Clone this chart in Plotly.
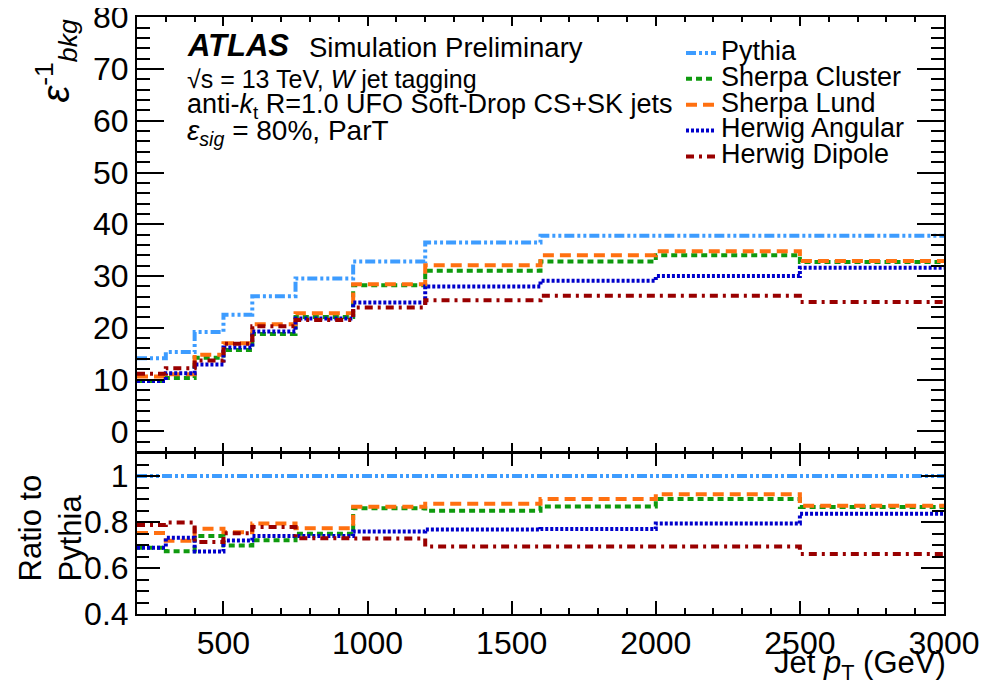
import plotly.graph_objects as go

# ---- data ----
pt_edges = [200, 300, 400, 500, 600, 750, 950, 1200, 1600, 2000, 2500, 3000]
pythia = [14.1, 15.3, 19.2, 22.5, 26.1, 29.5, 32.8, 36.5, 37.8, 37.8, 37.8]
sherpa_cluster = [9.7, 10.3, 14.2, 15.7, 18.8, 22.1, 28.2, 31.0, 32.8, 34.0, 32.7]
sherpa_lund = [10.6, 11.0, 14.8, 17.0, 20.7, 22.8, 28.4, 32.1, 34.0, 34.8, 32.9]
herwig_angular = [9.7, 11.2, 12.9, 16.2, 19.3, 21.8, 24.9, 28.0, 29.1, 30.0, 31.6]
herwig_dipole = [11.1, 12.2, 13.7, 16.9, 20.3, 21.5, 23.9, 25.3, 26.2, 26.2, 25.0]

series_names = ["Pythia", "Sherpa Cluster", "Sherpa Lund", "Herwig Angular", "Herwig Dipole"]
series_values = [pythia, sherpa_cluster, sherpa_lund, herwig_angular, herwig_dipole]
series_colors = ["#3d9cff", "#0f9a0f", "#ff7010", "#0000cc", "#990000"]
series_dash = ["10px,3px,3px,3px,3px,3px", "6px,4px", "11px,6px", "3px,2px", "8px,5px,3px,5px"]

top_yticks = [0, 10, 20, 30, 40, 50, 60, 70, 80]
ratio_yticks = [0.4, 0.6, 0.8, 1.0]
ratio_yticktext = ["0.4", "0.6", "0.8", "1"]
x_ticks = [500, 1000, 1500, 2000, 2500, 3000]

FONT = "Liberation Sans, Arial, sans-serif"

# page body has an 8px margin: build the figure so that it fits the window
W, H = 984, 681
OFF = 8


def px(x):
    return (x - OFF) / W


def py(y):
    return 1 - (y - OFF) / H


fig = go.Figure()

for i in range(len(series_names)):
    vals = series_values[i]
    ystep = vals + [vals[-1]]
    fig.add_trace(go.Scatter(
        x=pt_edges, y=ystep, mode="lines", line_shape="hv",
        line=dict(color=series_colors[i], width=4, dash=series_dash[i]),
        name="<span style='font-size:27px'>" + series_names[i] + "</span>",
        xaxis="x", yaxis="y", showlegend=True))

for i in range(len(series_names)):
    vals = series_values[i]
    ratio = [v / p for v, p in zip(vals, pythia)]
    ystep = ratio + [ratio[-1]]
    fig.add_trace(go.Scatter(
        x=pt_edges, y=ystep, mode="lines", line_shape="hv",
        line=dict(color=series_colors[i], width=4, dash=series_dash[i]),
        xaxis="x2", yaxis="y2", showlegend=False))

xdom = [px(137), px(944)]
axis_common = dict(showline=True, linecolor="black", linewidth=2, mirror="ticks",
                   ticks="inside", tickcolor="black", tickwidth=2, showgrid=False,
                   zeroline=False, automargin=False, ticklabeloverflow="allow")

fig.update_layout(
    width=W, height=H,
    margin=dict(l=0, r=0, t=0, b=0),
    paper_bgcolor="white", plot_bgcolor="white",
    font=dict(family=FONT, color="black", size=30),
    xaxis=dict(domain=xdom, range=[200, 3000], anchor="y", tickvals=x_ticks,
               showticklabels=False, ticklen=9,
               minor=dict(dtick=100, tick0=0, ticks="inside", ticklen=5, tickcolor="black", tickwidth=2),
               **axis_common),
    yaxis=dict(domain=[py(452), py(17)], range=[-4, 80.05], anchor="x",
               tickvals=top_yticks, ticklen=27, tickfont=dict(size=32),
               minor=dict(dtick=2, tick0=0, ticks="inside", ticklen=13, tickcolor="black", tickwidth=2),
               **axis_common),
    xaxis2=dict(domain=xdom, range=[200, 3000], anchor="y2", tickvals=x_ticks,
                ticklen=13, tickfont=dict(size=32),
                minor=dict(dtick=100, tick0=0, ticks="inside", ticklen=6, tickcolor="black", tickwidth=2),
                **axis_common),
    yaxis2=dict(domain=[py(614), py(453)], range=[0.4, 1.1], anchor="x2",
                tickvals=ratio_yticks, ticktext=ratio_yticktext, ticklen=23,
                tickfont=dict(size=32),
                minor=dict(dtick=0.05, tick0=0, ticks="inside", ticklen=12, tickcolor="black", tickwidth=2),
                **axis_common),
    legend=dict(x=px(681), y=py(35), xanchor="left", yanchor="top",
                bgcolor="rgba(0,0,0,0)", font=dict(size=17.6, family=FONT),
                tracegroupgap=0, itemwidth=30),
)

ann = []
ann.append(dict(text="<b><i>ATLAS</i></b>", x=px(185), y=py(46), xref="paper", yref="paper",
                xanchor="left", yanchor="middle", showarrow=False, font=dict(size=31)))
ann.append(dict(text="Simulation Preliminary", x=px(307), y=py(47), xref="paper", yref="paper",
                xanchor="left", yanchor="middle", showarrow=False, font=dict(size=27.5)))
ann.append(dict(text="√s = 13 TeV, <i>W</i> jet tagging", x=px(185), y=py(79), xref="paper", yref="paper",
                xanchor="left", yanchor="middle", showarrow=False, font=dict(size=25)))
ann.append(dict(text="anti-<i>k</i><sub>t</sub> R=1.0 UFO Soft-Drop CS+SK jets", x=px(185), y=py(106),
                xref="paper", yref="paper", xanchor="left", yanchor="middle", showarrow=False,
                font=dict(size=27)))
ann.append(dict(text="<i>ε<sub>sig</sub></i> = 80%, ParT", x=px(185), y=py(133), xref="paper", yref="paper",
                xanchor="left", yanchor="middle", showarrow=False, font=dict(size=28)))
# axis titles
ann.append(dict(text="<i>ε</i><sup>-1</sup><sub><i>bkg</i></sub>", x=px(56), y=py(18), xref="paper", yref="paper",
                xanchor="center", yanchor="top", textangle=-90, showarrow=False, font=dict(size=38)))
ann.append(dict(text="Ratio to<br>Pythia", x=px(50), y=py(584), xref="paper", yref="paper",
                xanchor="center", yanchor="bottom", textangle=-90, align="left", showarrow=False,
                font=dict(size=31)))
ann.append(dict(text="Jet <i>p</i><sub>T</sub> (GeV)", x=px(948), y=py(665), xref="paper", yref="paper",
                xanchor="right", yanchor="middle", showarrow=False, font=dict(size=31)))
fig.update_layout(annotations=ann)

fig.write_html("out.html")
